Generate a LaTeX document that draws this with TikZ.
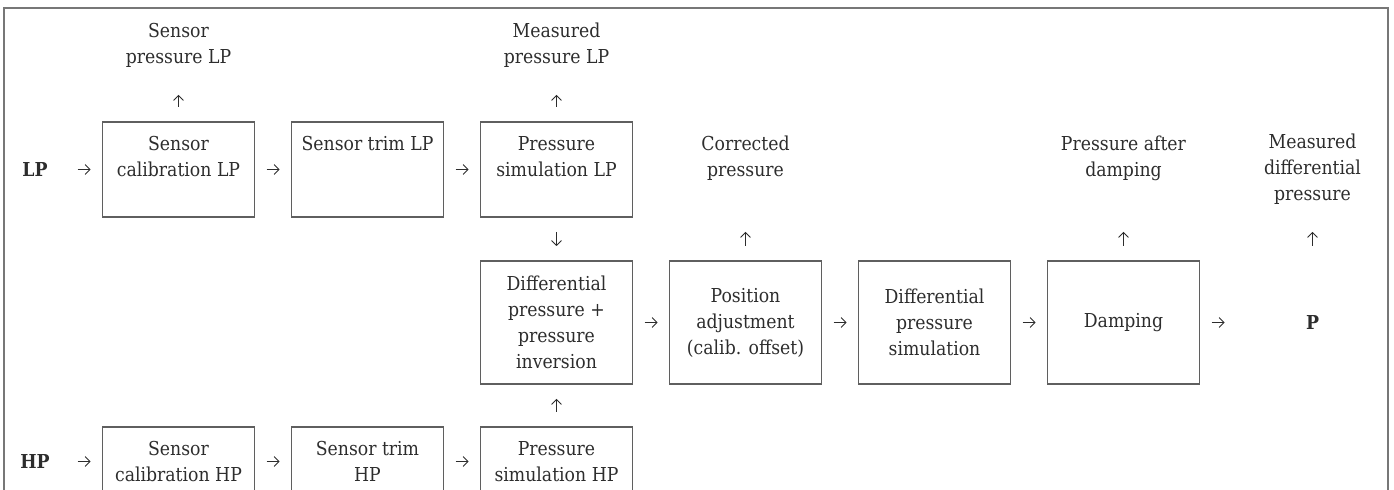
\documentclass[tikz,border=0pt]{standalone}
\usepackage{fontspec}
\setmainfont{DejaVu Serif Condensed}
\usetikzlibrary{arrows.meta,positioning}
\definecolor{ink}{RGB}{45,45,45}
\definecolor{rule}{RGB}{95,95,95}
\newcommand\flowfont{\fontsize{9.6pt}{13pt}\selectfont}
\newcommand\padline{\\[-4pt]\strut}
\tikzset{
  stage/.style={draw=rule,line width=0.6pt,minimum width=76pt,inner sep=3pt,outer sep=0pt,
    align=center,text=ink},
  stageA/.style={stage,minimum height=47.5pt},
  stageB/.style={stage,minimum height=61.5pt},
  stageC/.style={stage,minimum height=34.5pt},
  outlbl/.style={minimum width=76pt,minimum height=47.5pt,inner sep=3pt,outer sep=0pt,
    align=center,text=ink},
  toplbl/.style={minimum width=76pt,minimum height=35pt,inner sep=3pt,outer sep=0pt,
    align=center,text=ink,yshift=-1pt},
  port/.style={minimum width=30.5pt,inner sep=0pt,outer sep=0pt,font=\flowfont\bfseries,text=ink},
  arr/.style={-{Straight Barb[length=2.4pt,width=5pt]},line width=0.45pt,draw=ink,
    shorten <=6pt,shorten >=6pt},
  uparr/.style={arr,shorten <=7.5pt,shorten >=7.5pt},
}
\begin{document}
\begin{tikzpicture}[node distance=18.5pt,font=\flowfont]
\useasboundingbox (0,0) rectangle (697pt,-245pt);
\draw[draw=rule!85,line width=0.7pt] (2pt,-4pt) rectangle (694pt,-260pt);
\node[stageA,anchor=north west] (calLP) at (51.25pt,-61pt) {Sensor\\calibration LP\padline};
\node[stageA,right=of calLP] (trimLP) {Sensor trim LP\\\strut\padline};
\node[stageA,right=of trimLP] (simLP) {Pressure\\simulation LP\padline};
\node[port,left=of calLP] (LP) {LP};
\node[toplbl,above=22pt of calLP] (sensLP) {Sensor\\pressure LP};
\node[toplbl,above=22pt of simLP] (measLP) {Measured\\pressure LP};
\node[stageB,below=22pt of simLP] (diff) {Differential\\pressure +\\pressure\\inversion};
\node[stageB,right=of diff] (pos) {Position\\adjustment\\(calib. offset)};
\node[stageB,right=of pos] (dsim) {Differential\\pressure\\simulation};
\node[stageB,right=of dsim] (damp) {Damping};
\node[port,minimum width=76pt,minimum height=61.5pt,right=of damp] (P) {P};
\node[outlbl,above=22pt of pos] (corr) {Corrected\\pressure\padline};
\node[outlbl,above=22pt of damp] (afterdamp) {Pressure after\\damping\padline};
\node[outlbl,above=22pt of P] (measdp) {Measured\\differential\\pressure};
\node[stageC,below=21.5pt of diff] (simHP) {Pressure\\simulation HP};
\node[stageC,left=of simHP] (trimHP) {Sensor trim\\HP};
\node[stageC,left=of trimHP] (calHP) {Sensor\\calibration HP};
\node[port,left=of calHP] (HP) {HP};
\draw[arr] (LP)--(calLP);
\draw[arr] (calLP)--(trimLP);
\draw[arr] (trimLP)--(simLP);
\draw[arr] (HP)--(calHP);
\draw[arr] (calHP)--(trimHP);
\draw[arr] (trimHP)--(simHP);
\draw[arr] (diff)--(pos);
\draw[arr] (pos)--(dsim);
\draw[arr] (dsim)--(damp);
\draw[arr] (damp)--(P);
\draw[uparr] (calLP)--(sensLP);
\draw[uparr] (simLP)--(measLP);
\draw[uparr] (simLP)--(diff);
\draw[uparr] (simHP)--(diff);
\draw[uparr] (pos)--(corr);
\draw[uparr] (damp)--(afterdamp);
\draw[uparr] (P)--(measdp);
\end{tikzpicture}
\end{document}
